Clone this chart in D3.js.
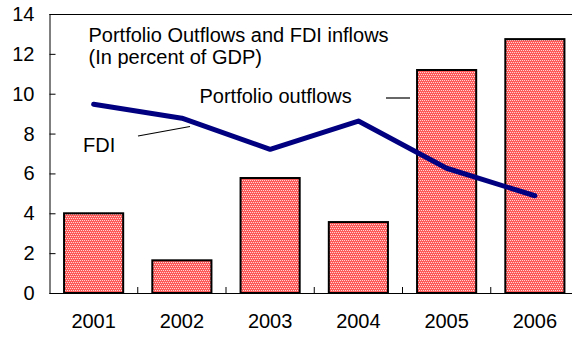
<!DOCTYPE html>
<html>
<head>
<meta charset="utf-8">
<script src="https://cdn.jsdelivr.net/npm/d3@7"></script>
<style>
  body { margin: 0; background: #fff; }
  svg { display: block; font-family: Arial, "Liberation Sans", sans-serif; }
</style>
</head>
<body>
<script>
// datos
var years = ["2001", "2002", "2003", "2004", "2005", "2006"];
var portfolioOutflows = [4.0, 1.64, 5.77, 3.56, 11.19, 12.74];
var fdiInflows = [9.47, 8.77, 7.21, 8.63, 6.26, 4.88];
var yTicks = [0, 2, 4, 6, 8, 10, 12, 14];

var width = 572, height = 337;
var plotLeft = 49.5, plotRight = 579, plotTop = 14, plotBottom = 293;
var fontSize = "20px";

var svg = d3.select("body").append("svg")
    .attr("width", width)
    .attr("height", height);

// patrón de relleno para las barras (cuadriculado rojo)
var pat = svg.append("defs").append("pattern")
    .attr("id", "checker")
    .attr("patternUnits", "userSpaceOnUse")
    .attr("width", 4)
    .attr("height", 4);
pat.append("rect").attr("width", 4).attr("height", 4).attr("fill", "#ff5a5a")
    .attr("shape-rendering", "crispEdges");
[[0, 0], [2, 0], [1, 2], [3, 2]].forEach(function(p) {
    pat.append("rect").attr("x", p[0]).attr("y", p[1]).attr("width", 1).attr("height", 1)
        .attr("fill", "#ffd6d6").attr("shape-rendering", "crispEdges");
});

var x = d3.scaleBand()
    .domain(years)
    .range([plotLeft, plotRight])
    .paddingInner(0.33)
    .paddingOuter(0.165);

var y = d3.scaleLinear()
    .domain([0, 14])
    .range([plotBottom, plotTop]);

// barras
svg.selectAll("rect.bar")
    .data(years)
    .enter().append("rect")
    .attr("class", "bar")
    .attr("x", function(d) { return x(d); })
    .attr("y", function(d, i) { return y(portfolioOutflows[i]); })
    .attr("width", x.bandwidth())
    .attr("height", function(d, i) { return plotBottom - y(portfolioOutflows[i]); })
    .attr("fill", "url(#checker)")
    .attr("stroke", "#000")
    .attr("stroke-width", 2);

// borde superior
svg.append("line")
    .attr("x1", plotLeft).attr("x2", plotRight)
    .attr("y1", plotTop + 0.5).attr("y2", plotTop + 0.5)
    .attr("stroke", "#000").attr("stroke-width", 1);

// eje y (marcas hacia dentro)
var yAxis = svg.append("g")
    .attr("transform", "translate(" + plotLeft + ",0)")
    .call(d3.axisRight(y).tickValues(yTicks).tickSize(6).tickSizeOuter(0).tickFormat(""));
yAxis.select(".domain").attr("stroke", "#000");
yAxis.selectAll("line").attr("stroke", "#000");

svg.selectAll("text.ylab")
    .data(yTicks)
    .enter().append("text")
    .attr("class", "ylab")
    .attr("x", 34.5)
    .attr("y", function(d) { return y(d); })
    .attr("dy", "0.35em")
    .attr("text-anchor", "end")
    .attr("font-size", fontSize)
    .attr("fill", "#000")
    .text(function(d) { return d; });

// eje x con marcas entre categorías
var step = x.step();
var firstEdge = x(years[0]) - (step - x.bandwidth()) / 2;
var bounds = d3.range(1, years.length).map(function(i) { return firstEdge + i * step; });
svg.append("line")
    .attr("x1", plotLeft).attr("x2", plotRight)
    .attr("y1", plotBottom + 0.5).attr("y2", plotBottom + 0.5)
    .attr("stroke", "#000").attr("stroke-width", 1);
svg.selectAll("line.xtick")
    .data(bounds)
    .enter().append("line")
    .attr("class", "xtick")
    .attr("x1", function(d) { return d; }).attr("x2", function(d) { return d; })
    .attr("y1", plotBottom).attr("y2", plotBottom - 6)
    .attr("stroke", "#000");

svg.selectAll("text.xlab")
    .data(years)
    .enter().append("text")
    .attr("class", "xlab")
    .attr("x", function(d) { return x(d) + x.bandwidth() / 2; })
    .attr("y", 328)
    .attr("text-anchor", "middle")
    .attr("font-size", fontSize)
    .attr("fill", "#000")
    .text(function(d) { return d; });

// línea FDI
var line = d3.line()
    .x(function(d, i) { return x(years[i]) + x.bandwidth() / 2; })
    .y(function(d) { return y(d); });
svg.append("path")
    .datum(fdiInflows)
    .attr("d", line)
    .attr("fill", "none")
    .attr("stroke", "#000080")
    .attr("stroke-width", 5)
    .attr("stroke-linecap", "round")
    .attr("stroke-linejoin", "round");

// títulos y etiquetas
svg.append("text").attr("x", 88.5).attr("y", 42)
    .attr("font-size", fontSize).text("Portfolio Outflows and FDI inflows");
svg.append("text").attr("x", 88.5).attr("y", 64)
    .attr("font-size", fontSize).text("(In percent of GDP)");
svg.append("text").attr("x", 199.5).attr("y", 103)
    .attr("font-size", fontSize).text("Portfolio outflows");
svg.append("text").attr("x", 83).attr("y", 152)
    .attr("font-size", fontSize).text("FDI");

// líneas guía de las etiquetas
svg.append("line")
    .attr("x1", 386).attr("y1", 98).attr("x2", 410).attr("y2", 98)
    .attr("stroke", "#000").attr("stroke-width", 1.2);
svg.append("line")
    .attr("x1", 138).attr("y1", 136).attr("x2", 190).attr("y2", 126.5)
    .attr("stroke", "#000").attr("stroke-width", 1.2);
</script>
</body>
</html>
